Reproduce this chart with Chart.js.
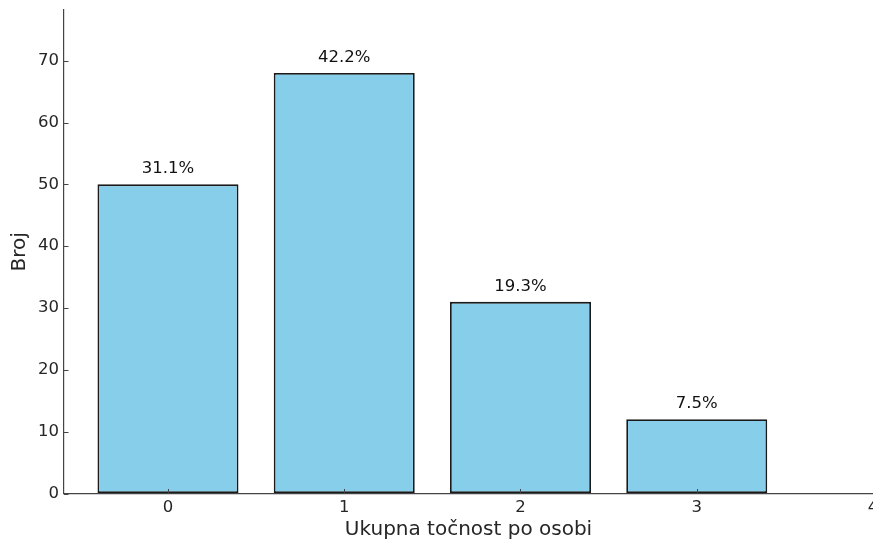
<!DOCTYPE html>
<html>
<head>
<meta charset="utf-8">
<script src="https://cdn.jsdelivr.net/npm/chart.js@4/dist/chart.umd.min.js"></script>
<style>
html,body{margin:0;padding:0;background:#fff;overflow:hidden;}
#wrap{width:873px;height:542px;position:relative;}
</style>
</head>
<body>
<div id="wrap"><canvas id="c"></canvas></div>
<script>
const categories = [0, 1, 2, 3];
const counts = [50, 68, 31, 12];
const xTicks = [0, 1, 2, 3, 4];
const yTicks = [0, 10, 20, 30, 40, 50, 60, 70];
const xTitle = 'Ukupna točnost po osobi';
const yTitle = 'Broj';

const total = counts.reduce((a, b) => a + b, 0);
const percents = counts.map(v => (v / total * 100).toFixed(1) + '%');

const FONT = "'DejaVu Sans', sans-serif";
const TEXT = '#262626';

const tickMarks = {
  id: 'tickMarks',
  afterDatasetsDraw(chart) {
    const ctx = chart.ctx;
    const xs = chart.scales.x, ys = chart.scales.y;
    const area = chart.chartArea;
    ctx.save();
    ctx.strokeStyle = '#444';
    ctx.lineWidth = 1;
    xs.ticks.forEach(t => {
      const px = Math.round(xs.getPixelForValue(t.value)) + 0.5;
      ctx.beginPath();
      ctx.moveTo(px, area.bottom);
      ctx.lineTo(px, area.bottom - 4.5);
      ctx.stroke();
    });
    ys.ticks.forEach(t => {
      const py = Math.round(ys.getPixelForValue(t.value)) + 0.5;
      ctx.beginPath();
      ctx.moveTo(area.left, py);
      ctx.lineTo(area.left + 4.5, py);
      ctx.stroke();
    });
    // percent labels
    const meta = chart.getDatasetMeta(0);
    ctx.fillStyle = '#111';
    ctx.font = "16.5px " + FONT;
    ctx.textAlign = 'center';
    ctx.textBaseline = 'alphabetic';
    meta.data.forEach((bar, i) => {
      ctx.fillText(percents[i], bar.x, bar.y - 11);
    });
    ctx.restore();
  }
};

new Chart(document.getElementById('c'), {
  type: 'bar',
  data: {
    datasets: [{
      data: categories.map((c, i) => ({x: c, y: counts[i]})),
      backgroundColor: '#87CEEB',
      borderColor: '#1a1a1a',
      borderWidth: 1.8,
      borderSkipped: false,
      categoryPercentage: 0.8,
      barPercentage: 1.0
    }]
  },
  options: {
    responsive: true,
    maintainAspectRatio: false,
    animation: false,
    layout: {padding: {top: 10, left: 0, right: 0, bottom: 0}},
    plugins: {legend: {display: false}, tooltip: {enabled: false}},
    scales: {
      x: {
        type: 'linear',
        min: -0.59,
        max: 4,
        offset: false,
        grid: {display: true, drawOnChartArea: false, drawTicks: false, offset: false},
        border: {display: true, color: '#444', width: 1.2},
        ticks: {color: TEXT, font: {family: FONT, size: 16.5}, padding: 4, maxRotation: 0},
        afterBuildTicks: s => { s.ticks = xTicks.map(v => ({value: v})); },
        afterFit: s => { s.paddingLeft = 0; s.paddingRight = 0; s.height = 48.5; },
        title: {display: true, text: xTitle, color: TEXT, font: {family: FONT, size: 20}, padding: {top: 0, bottom: 0}}
      },
      y: {
        type: 'linear',
        min: 0,
        max: 78.2,
        grid: {display: true, drawOnChartArea: false, drawTicks: false},
        border: {display: true, color: '#444', width: 1.2},
        ticks: {color: TEXT, font: {family: FONT, size: 16.5}, padding: 5},
        afterBuildTicks: s => { s.ticks = yTicks.map(v => ({value: v})); },
        afterFit: s => { s.width = 64; s.paddingTop = 0; s.paddingBottom = 0; },
        title: {display: true, text: yTitle, color: TEXT, font: {family: FONT, size: 20}, padding: {top: 8, bottom: 0}}
      }
    }
  },
  plugins: [tickMarks]
});
</script>
</body>
</html>
